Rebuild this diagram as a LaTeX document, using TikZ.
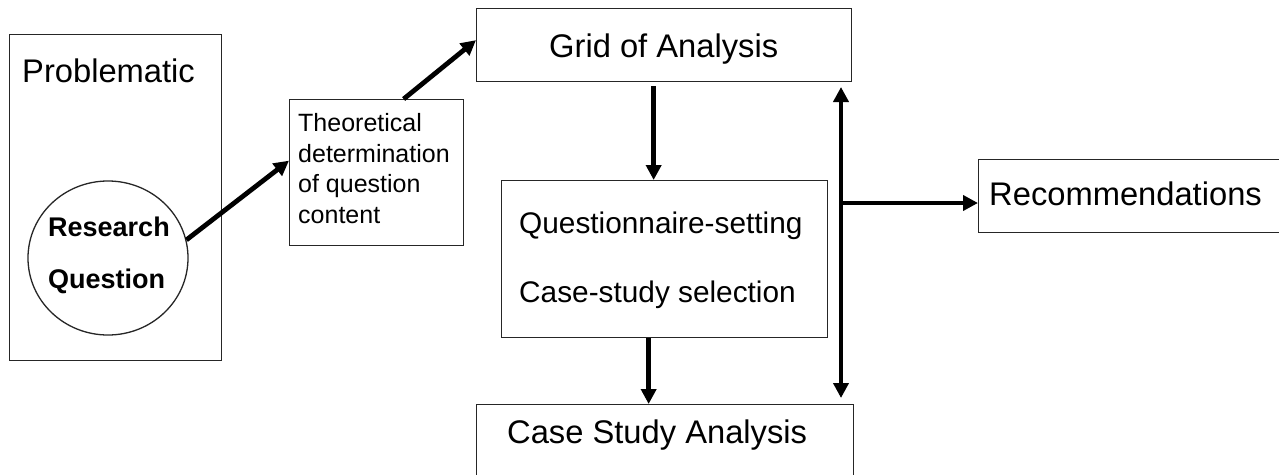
\documentclass[tikz,border=0pt]{standalone}
\usepackage{fontspec}
\setmainfont{Liberation Sans}
\usetikzlibrary{arrows.meta,shapes.geometric}
\tikzset{
  box/.style={draw=black!85, line width=1.3pt, rectangle, inner sep=0pt, anchor=north west},
  txt/.style={inner sep=0pt, anchor=base west, text=black},
  conn/.style={line width=4.8pt, -{Triangle[length=15pt,width=15pt]}},
  dconn/.style={line width=4.8pt, {Triangle[length=15pt,width=15pt]}-{Triangle[length=15pt,width=15pt]}},
}
\newcommand{\fsbig}{\fontsize{32.7}{36}\selectfont}
\newcommand{\fsmid}{\fontsize{29.8}{32}\selectfont}
\newcommand{\fssmall}{\fontsize{25}{30}\selectfont}
\newcommand{\fsbold}{\fontsize{27}{32}\selectfont\bfseries}
\begin{document}
\begin{tikzpicture}[x=1pt,y=-1pt]
\clip (0,0) rectangle (1279,474);
\fill[white] (0,0) rectangle (1279,474);
% boxes
\node[box, minimum width=212pt, minimum height=326pt] (prob) at (9,34) {};
\node[draw=black!85, line width=1.3pt, ellipse, minimum width=160pt, minimum height=154pt, inner sep=0pt] (circ) at (108,258) {};
\node[box, minimum width=174pt, minimum height=146pt] (theo) at (289,99) {};
\node[box, minimum width=375pt, minimum height=73pt] (grid) at (476,8) {};
\node[box, minimum width=326pt, minimum height=157pt] (mid) at (501,180) {};
\node[box, minimum width=377pt, minimum height=90pt] (case) at (476,404) {};
\node[box, minimum width=320pt, minimum height=73pt] (reco) at (978,159) {};
% texts
\node[txt] (tprob) at (22,82) {\fsbig Problematic};
\node[txt] (tres) at (48,236) {\fsbold Research};
\node[txt] (tque) at (48,288) {\fsbold Question};
\node[txt] (tth1) at (298,131) {\fssmall Theoretical};
\node[txt] (tth2) at (298,162) {\fssmall determination};
\node[txt] (tth3) at (298,192) {\fssmall of question};
\node[txt] (tth4) at (298,223) {\fssmall content};
\node[txt] (tgrid) at (549,57) {\fsbig Grid of Analysis};
\node[txt] (tq1) at (519,233) {\fsmid Questionnaire-setting};
\node[txt] (tq2) at (519,302) {\fsmid Case-study selection};
\node[txt] (tcase) at (507,443) {\fsbig Case Study Analysis};
\node[txt] (treco) at (989,205) {\fsbig Recommendations};
% connectors
\draw[conn] (circ.13) -- ([yshift=12pt]theo.west);
\draw[conn] ([xshift=27pt]theo.north) -- ([yshift=5pt]grid.west);
\draw[conn] ([xshift=-10.5pt,yshift=-4pt]grid.south) -- ([xshift=-11pt]mid.north);
\draw[conn] ([xshift=-16pt]mid.south) -- ([xshift=-16.5pt]case.north);
\coordinate (vt) at (841,87);
\coordinate (vb) at (841,398);
\coordinate (vm) at (841,203);
\draw[dconn] (vt) -- (vb);
\draw[conn] (vm) -- (reco.west |- vm);
\end{tikzpicture}
\end{document}
